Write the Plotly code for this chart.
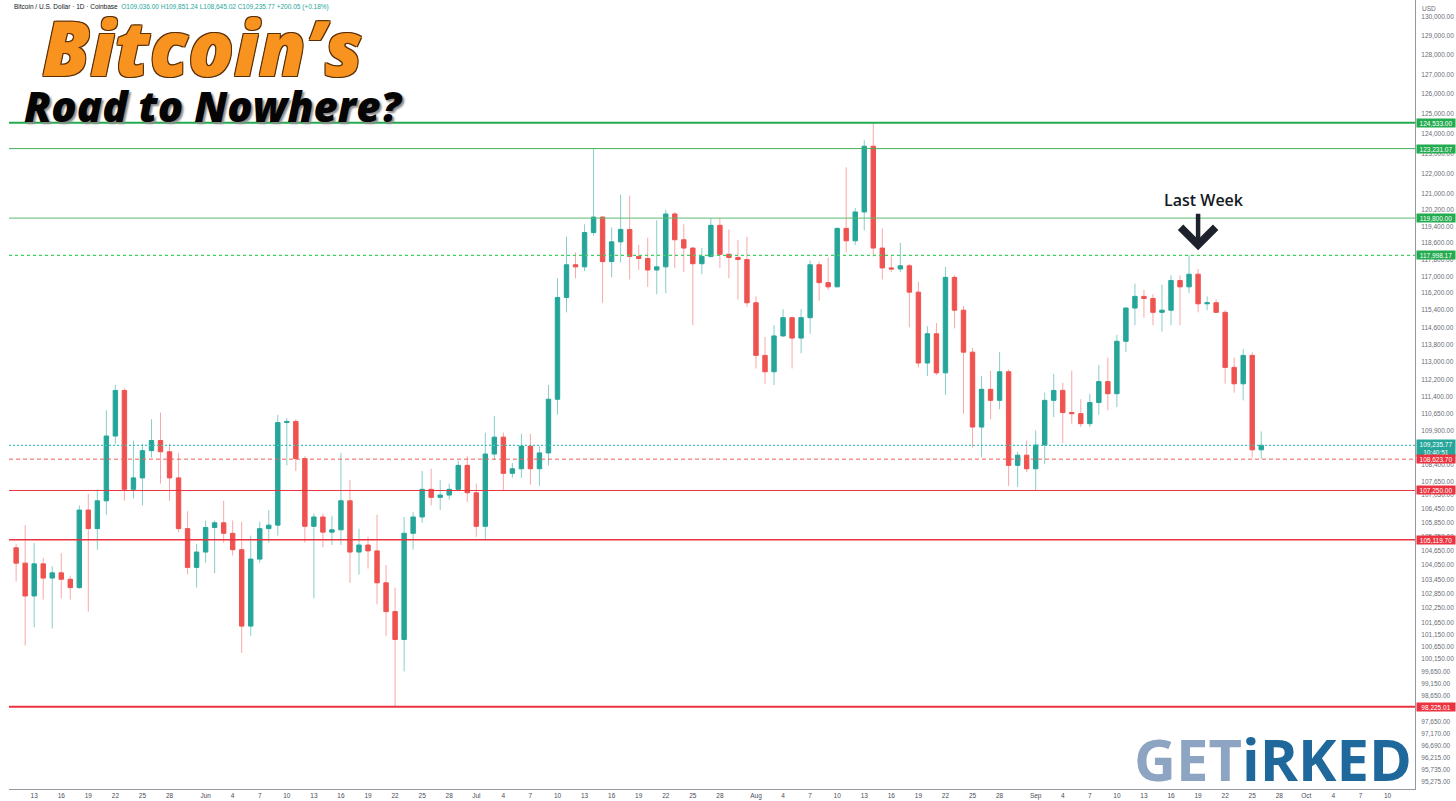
import numpy as np
import pandas as pd
import plotly.graph_objects as go

# --- daily candles, Coinbase BTC/USD, 11 May - 26 Sep 2025 ---
dates = pd.date_range("2025-05-11", "2025-09-26", freq="D")

open_ = [
    # May 11-31
    104780, 104130, 102750, 104100, 103500, 103720, 103450, 103100, 106400, 105600, 106800,
    109650, 111700, 107300, 107800, 109000, 109450, 108950, 107800, 105600, 103950,
    # Jun
    104600, 105650, 105850, 105400, 104700, 101500, 104300, 105600, 105750, 110250,
    110300, 108650, 105700, 106100, 105450, 105550, 106800, 104600, 104900, 104650,
    103300, 102100, 100950, 105400, 106100, 107300, 106950, 107050, 107300, 108350,
    # Jul
    107150, 105700, 108850, 109600, 108000, 108200, 109200, 108200, 108900, 111300,
    116000, 117550, 117450, 119100, 119850, 117700, 118650, 119250, 117950, 117850,
    117300, 117450, 120000, 118750, 118350, 117600, 117950, 119450, 118050, 117900, 117800,
    # Aug
    115750, 113300, 112550, 114200, 115050, 114100, 115050, 117550, 116700, 116500,
    119300, 118700, 120100, 123350, 118350, 117400, 117350, 117500, 116250, 112950,
    114300, 112500, 116950, 115400, 113450, 110050, 111750, 111250, 112550, 108350, 108800,
    # Sep 1-26
    108200, 109250, 111250, 111700, 110700, 110650, 110200, 111150, 112100, 111550,
    113950, 115500, 116050, 115950, 115300, 115400, 116800, 116500, 117100, 115700,
    115750, 115300, 112750, 112000, 113300, 109036.00,
]
high = [
    104950, 105750, 104980, 104350, 104000, 104550, 103600, 106600, 107100, 107300, 110800,
    111950, 111800, 109450, 109300, 110400, 110700, 109300, 108900, 106350, 104950,
    105950, 105950, 106800, 105950, 105900, 105300, 105900, 106400, 110600, 110450,
    110400, 108750, 106250, 106250, 106150, 108900, 107700, 105600, 105250, 106200,
    104050, 103100, 106100, 106300, 108100, 108200, 107700, 107550, 108550, 108750,
    107550, 109800, 110550, 109800, 108450, 109750, 109750, 109200, 111950, 116900,
    118900, 118150, 119500, 123231, 119900, 119350, 120950, 120900, 118500, 118850,
    119700, 120200, 120100, 119500, 118400, 118350, 119800, 119800, 119250, 118750, 118900,
    116050, 114150, 114700, 115450, 115100, 115450, 117750, 117700, 117900, 119350,
    122300, 120300, 123650, 124533, 119300, 117950, 118600, 117600, 116750, 114650,
    114800, 117450, 117050, 115600, 113650, 112350, 112600, 113450, 112650, 108950, 109450,
    109900, 111600, 112450, 112050, 112600, 111300, 111550, 112850, 113200, 114250,
    115550, 116650, 116350, 116150, 116600, 117050, 117050, 117998, 117350, 116050,
    115900, 115400, 113200, 113600, 113450, 109851.24,
]
low = [
    103350, 100700, 101450, 102600, 101400, 102650, 102600, 103050, 102100, 104700, 106200,
    109300, 106800, 106900, 106600, 108700, 107550, 106800, 105450, 103650, 103100,
    104150, 103700, 105000, 104450, 100400, 101100, 104150, 105000, 105300, 108350,
    108100, 105000, 102650, 104800, 104900, 104900, 103300, 103650, 103900, 102400,
    101100, 98225, 99650, 104700, 105850, 106600, 106400, 106850, 107250, 106750,
    105250, 105150, 108600, 107250, 107800, 107800, 107500, 107450, 108350, 110600,
    115300, 116900, 117250, 118950, 115750, 116950, 117650, 116850, 117300, 116500,
    116150, 116200, 117400, 117200, 114700, 117100, 117900, 117400, 116900, 115900, 115550,
    112700, 112000, 111950, 114150, 112700, 113400, 114300, 115850, 116350, 116500,
    118150, 118500, 119200, 117950, 116850, 117200, 117200, 114600, 112750, 112350,
    112400, 111500, 114550, 110650, 109150, 108700, 110400, 110850, 107450, 107400, 108050,
    107250, 108400, 110500, 109350, 110200, 110050, 110050, 110600, 110800, 110950,
    113450, 114700, 115050, 114700, 114400, 114700, 114700, 116200, 115300, 115400,
    115300, 112000, 111600, 111250, 108700, 108645.02,
]
close = [
    104130, 102750, 104100, 103500, 103720, 103450, 103100, 106400, 105600, 106800, 109650,
    111700, 107300, 107800, 109000, 109450, 108950, 107800, 105600, 103950, 104600,
    105650, 105850, 105400, 104700, 101500, 104300, 105600, 105750, 110250, 110300,
    108650, 105700, 106100, 105450, 105550, 106800, 104600, 104900, 104650, 103300,
    102100, 100950, 105400, 106100, 107300, 106950, 107050, 107300, 108350, 107150,
    105700, 108850, 109600, 108000, 108200, 109200, 108200, 108900, 111300, 116000,
    117550, 117450, 119100, 119850, 117700, 118650, 119250, 117950, 117850, 117300,
    117450, 120000, 118750, 118350, 117600, 117950, 119450, 118050, 117900, 117800, 115750,
    113300, 112550, 114200, 115050, 114100, 115050, 117550, 116700, 116500, 119300,
    118700, 120100, 123350, 118350, 117400, 117350, 117500, 116250, 112950, 114300,
    112500, 116950, 115400, 113450, 110050, 111750, 111250, 112550, 108350, 108800, 108200,
    109250, 111250, 111700, 110700, 110650, 110200, 111150, 112100, 111550, 113950,
    115500, 116050, 115950, 115300, 115400, 116800, 116500, 117100, 115700, 115750,
    115300, 112750, 112000, 113300, 109036.00, 109235.77,
]

# horizontal levels drawn on the chart
level_values = [124533.00, 123231.07, 119800.00, 117998.17, 109235.77, 108623.70, 107250.00, 105119.70, 98225.01]

# right price scale labels
y_tick_values = [
    130000, 129000, 128000, 127000, 126000, 125000, 124000, 123000, 122000, 121000,
    120200, 119400, 118600, 117800, 117000, 116200, 115400, 114600, 113800, 113000,
    112200, 111400, 110650, 109900, 109150, 108400, 107650, 107050, 106450, 105850,
    105250, 104650, 104050, 103450, 102850, 102250, 101650, 101150, 100650, 100150,
    99650, 99150, 98650, 98150, 97650, 97170, 96690, 96215, 95735, 95275,
]

# date scale labels
x_tick_dates = (["2025-05-%02d" % d for d in (13, 16, 19, 22, 25, 28)]
                + ["2025-%02d-%02d" % (m, d) for m in (6, 7, 8, 9) for d in (1, 4, 7, 10, 13, 16, 19, 22, 25, 28)]
                + ["2025-10-%02d" % d for d in (1, 4, 7, 10)])
month_names = {"06": "Jun", "07": "Jul", "08": "Aug", "09": "Sep", "10": "Oct"}
x_tick_text = [month_names[s[5:7]] if s.endswith("-01") else str(int(s[8:])) for s in x_tick_dates]

UP = "#26a69a"
DOWN = "#ef5350"
GREEN_LVL = "#22ab4f"
RED_LVL = "#eb3340"

o = np.array(open_, dtype=float)
h = np.array(high, dtype=float)
l = np.array(low, dtype=float)
c = np.array(close, dtype=float)
up = c >= o

x_start = pd.Timestamp("2025-05-10 05:00")
x_end = pd.Timestamp("2025-10-13 01:00")

fig = go.Figure()

# wicks, a bit lighter than the bodies
for mask, col in ((up, "rgba(38,166,154,0.55)"), (~up, "rgba(239,83,80,0.5)")):
    wx, wy = [], []
    for d, lo, hi in zip(dates[mask], l[mask], h[mask]):
        wx += [d, d, None]
        wy += [lo, hi, None]
    fig.add_trace(go.Scatter(x=wx, y=wy, mode="lines", line=dict(color=col, width=1),
                             hoverinfo="skip"))

# bodies
fig.add_trace(go.Candlestick(
    x=dates, open=o, close=c, high=np.maximum(o, c), low=np.minimum(o, c),
    increasing=dict(line=dict(color=UP, width=1), fillcolor=UP),
    decreasing=dict(line=dict(color=DOWN, width=1), fillcolor=DOWN),
    whiskerwidth=0,
))

level_styles = [
    (GREEN_LVL, 2, "solid"), ("#43b05c", 1, "solid"), ("#5dbb70", 1, "solid"),
    ("#3fd060", 1.3, "3px,3px"), ("#3cc4b6", 1.2, "2px,2px"), ("#f25e5b", 1, "4px,3px"),
    (RED_LVL, 1, "solid"), (RED_LVL, 1.5, "solid"), (RED_LVL, 2, "solid"),
]
for v, (col, w, dash) in zip(level_values, level_styles):
    fig.add_trace(go.Scatter(x=[x_start, x_end], y=[v, v], mode="lines",
                             line=dict(color=col, width=w, dash=dash), hoverinfo="skip"))

annotations = []
label_colors = [GREEN_LVL, GREEN_LVL, GREEN_LVL, GREEN_LVL, UP, RED_LVL, RED_LVL, RED_LVL, RED_LVL]
for v, col in zip(level_values, label_colors):
    txt = f"{v:,.2f}"
    anchor, shift = "middle", 0
    if abs(v - close[-1]) < 0.01:
        txt += "<br>10:40:51"
        anchor, shift = "top", 6
    annotations.append(dict(
        xref="paper", x=1, xanchor="left", xshift=1, yref="y", y=np.log10(v), yanchor=anchor, yshift=shift,
        text=txt, showarrow=False, bgcolor=col, width=37, borderpad=0.5,
        font=dict(family="Liberation Sans", size=6.5, color="white"),
    ))

annotations += [
    dict(xref="paper", x=1, xanchor="left", xshift=5, yref="paper", y=1, yanchor="top", yshift=-3,
         text="USD", showarrow=False, font=dict(family="Liberation Sans", size=6.5, color="#6a6d78")),
    dict(xref="paper", x=0, xanchor="left", xshift=3, yref="paper", y=1, yanchor="top", yshift=-1,
         showarrow=False, font=dict(family="Liberation Sans", size=6.5, color="#131722"),
         text="Bitcoin / U.S. Dollar · 1D · Coinbase  <span style='color:#26a69a'>O109,036.00 "
              "H109,851.24 L108,645.02 C109,235.77 +200.05 (+0.18%)</span>"),
    dict(xref="paper", x=0.022, xanchor="left", yref="paper", y=0.941, yanchor="middle",
         text="Bitcoin’s", showarrow=False,
         font=dict(family="Open Sans", size=76, color="#f7931e", weight=800, style="italic",
                   shadow="1px 1px 0 #5a2e05, -1px -1px 0 #5a2e05, 1px -1px 0 #5a2e05, -1px 1px 0 #5a2e05")),
    dict(xref="paper", x=0.009, xanchor="left", yref="paper", y=0.866, yanchor="middle",
         text="Road to Nowhere?", showarrow=False,
         font=dict(family="Open Sans", size=42, color="#050505", weight=800, style="italic",
                   shadow="2px 2px 2px #8a8a8a")),
    dict(x="2025-09-19 16:00", y=np.log10(120700), xref="x", yref="y", text="Last Week",
         showarrow=False, font=dict(family="Open Sans", size=16, color="#131722", weight=600)),
    dict(x="2025-09-19", y=np.log10(118250), xref="x", yref="y", text="", showarrow=True,
         ax=0, ay=-38, arrowhead=4, arrowsize=1.5, arrowwidth=4.5, arrowcolor="#1e222d"),
    dict(xref="paper", x=1, xanchor="right", xshift=-1, yref="paper", y=0, yanchor="bottom", yshift=-11,
         showarrow=False,
         text="<span style='color:#8ea4c3'>GET</span><span style='color:#1f689c'>iRKED</span>",
         font=dict(family="Open Sans", size=58, weight=700)),
]

fig.update_layout(
    width=1456, height=801,
    margin=dict(l=9, r=41, t=0, b=12),
    paper_bgcolor="white", plot_bgcolor="white",
    showlegend=False,
    annotations=annotations,
    xaxis=dict(
        type="date", range=[x_start, x_end], rangeslider=dict(visible=False),
        showgrid=False, zeroline=False, showline=True, linecolor="#9598a1", linewidth=1,
        tickvals=x_tick_dates, ticktext=x_tick_text, ticks="",
        tickfont=dict(family="Liberation Sans", size=6.5, color="#4a4d57"),
    ),
    yaxis=dict(
        type="log", side="right", range=[np.log10(95000), np.log10(130900)],
        showgrid=False, zeroline=False, showline=True, linecolor="#9598a1", linewidth=1,
        tickvals=y_tick_values, ticktext=[f"{v:,.2f}" for v in y_tick_values], ticks="",
        ticklabelstandoff=4,
        tickfont=dict(family="Liberation Sans", size=6.5, color="#6a6d78"),
    ),
)

fig.write_html("out.html", config={"displayModeBar": False})

# the page's default body margin would push the 1456x801 figure past the window edge
with open("out.html", encoding="utf-8") as f:
    page = f.read()
page = page.replace("<head>", "<head><style>body{margin:0;overflow:hidden}</style>", 1)
with open("out.html", "w", encoding="utf-8") as f:
    f.write(page)
